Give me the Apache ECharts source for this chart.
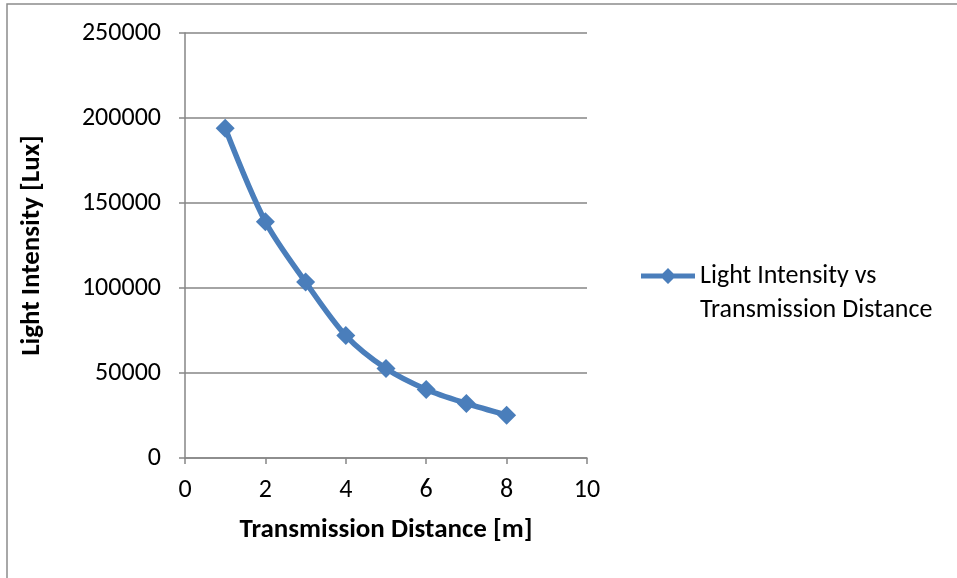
<!DOCTYPE html>
<html>
<head>
<meta charset="utf-8">
<script src="https://cdn.jsdelivr.net/npm/echarts@6/dist/echarts.min.js"></script>
<style>
  html, body { margin: 0; padding: 0; background: #fff; }
  #chart { width: 957px; height: 578px; }
</style>
</head>
<body>
<div id="chart"></div>
<script>
// Transmission distance (m) and measured light intensity (lux)
const distances = [1, 2, 3, 4, 5, 6, 7, 8];
const intensities = [194000, 139000, 103500, 72000, 52600, 40300, 32100, 25200];
const seriesName = 'Light Intensity vs\nTransmission Distance';
const xTicks = { min: 0, max: 10, interval: 2 };
const yTicks = { min: 0, max: 250000, interval: 50000 };

const FONT = "'Carlito', 'Open Sans', 'Noto Sans', sans-serif";
const BLUE = '#4a7ebb';
const GRID_GRAY = '#868686';

// legend glyph: thick line with a diamond marker in the middle
const LEGEND_ICON = 'path://M0,5.5 L21.5,5.5 L27,0 L32.5,5.5 L54,5.5 L54,10.5 L32.5,10.5 L27,16 L21.5,10.5 L0,10.5 Z';

const chart = echarts.init(document.getElementById('chart'), null, { renderer: 'canvas' });

chart.setOption({
  animation: false,
  backgroundColor: '#fff',
  graphic: [{
    type: 'rect',
    shape: { x: 7, y: 4, width: 1000, height: 700 },
    style: { fill: 'none', stroke: '#8c8c8c', lineWidth: 1.5 },
    silent: true
  }],
  grid: { left: 185, right: 370, top: 33, bottom: 120, containLabel: false },
  legend: {
    left: 641,
    top: 225,
    padding: 0,
    orient: 'vertical',
    itemWidth: 54,
    itemHeight: 16,
    icon: LEGEND_ICON,
    itemStyle: { color: BLUE },
    textStyle: {
      fontFamily: FONT,
      fontSize: 26,
      color: '#000',
      lineHeight: 34
    },
    // blank first line keeps the icon level with the first line of text
    formatter: name => '\n' + name,
    data: [seriesName]
  },
  xAxis: {
    type: 'value',
    min: xTicks.min, max: xTicks.max, interval: xTicks.interval,
    name: 'Transmission Distance [m]',
    nameLocation: 'middle',
    nameGap: 59,
    nameTextStyle: { fontFamily: FONT, fontSize: 27, fontWeight: 'bold', color: '#000' },
    axisLine: { show: true, lineStyle: { color: GRID_GRAY, width: 1.5 } },
    axisTick: { show: true, inside: false, length: 6, lineStyle: { color: GRID_GRAY, width: 1.5 } },
    axisLabel: { fontFamily: FONT, fontSize: 26, color: '#000', margin: 19 },
    splitLine: { show: false }
  },
  yAxis: {
    type: 'value',
    min: yTicks.min, max: yTicks.max, interval: yTicks.interval,
    name: 'Light Intensity [Lux]',
    nameLocation: 'middle',
    nameGap: 139,
    nameRotate: 90,
    nameTextStyle: { fontFamily: FONT, fontSize: 27, fontWeight: 'bold', color: '#000' },
    axisLine: { show: true, lineStyle: { color: GRID_GRAY, width: 1.5 } },
    axisTick: { show: true, inside: false, length: 6, lineStyle: { color: GRID_GRAY, width: 1.5 } },
    axisLabel: { fontFamily: FONT, fontSize: 26, color: '#000', margin: 24, formatter: v => String(v) },
    splitLine: { show: true, lineStyle: { color: GRID_GRAY, width: 1.5 } }
  },
  series: [{
    name: seriesName,
    type: 'line',
    smooth: 0.3,
    data: distances.map((d, i) => [d, intensities[i]]),
    symbol: 'diamond',
    symbolSize: 19,
    lineStyle: { color: BLUE, width: 5.5 },
    itemStyle: { color: BLUE },
    z: 3
  }]
});
</script>
</body>
</html>
